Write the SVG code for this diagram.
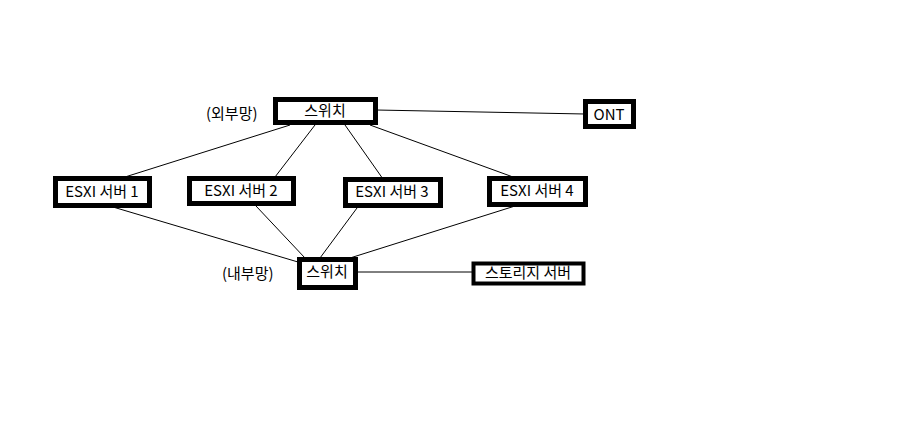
<svg xmlns="http://www.w3.org/2000/svg" width="909" height="445" viewBox="0 0 909 445">
<style>
.b{fill:#fff;stroke:#000;stroke-width:5}
.t{font-family:"Malgun Gothic","Noto Sans CJK KR",sans-serif;font-size:15px;fill:#000}
.c line{stroke:#000;stroke-width:1}
</style>
<rect width="909" height="445" fill="#fff"/>
<g class="c">
<line x1="376" y1="110" x2="585" y2="114"/>
<line x1="290" y1="125" x2="125" y2="177"/>
<line x1="315" y1="125" x2="275" y2="177"/>
<line x1="345" y1="125" x2="383" y2="179"/>
<line x1="370" y1="125" x2="513" y2="177"/>
<line x1="113" y1="207" x2="298" y2="262"/>
<line x1="256" y1="206" x2="305" y2="258"/>
<line x1="357" y1="208" x2="320" y2="258"/>
<line x1="515" y1="206" x2="350" y2="258"/>
<line x1="357" y1="272" x2="474" y2="272"/>
</g>
<g id="sw1"><rect class="b" x="275.5" y="99.5" width="100" height="23"/><text class="t" x="325" y="116" text-anchor="middle">스위치</text></g>
<text class="t" x="206" y="119">(외부망)</text>
<g id="ont"><rect class="b" x="585.5" y="101.5" width="48" height="25"/><text class="t" x="609" y="120" text-anchor="middle">ONT</text></g>
<g id="e1"><rect class="b" x="55.5" y="178.5" width="94" height="27"/><text class="t" x="102" y="197" text-anchor="middle">ESXI 서버 1</text></g>
<g id="e2"><rect class="b" x="189.5" y="178.5" width="104" height="25"/><text class="t" x="241" y="196" text-anchor="middle">ESXI 서버 2</text></g>
<g id="e3"><rect class="b" x="345.5" y="179.5" width="95" height="26"/><text class="t" x="392" y="197" text-anchor="middle">ESXI 서버 3</text></g>
<g id="e4"><rect class="b" x="489.5" y="178.5" width="96" height="26"/><text class="t" x="537" y="196" text-anchor="middle">ESXI 서버 4</text></g>
<g id="sw2"><rect class="b" x="299.5" y="259.5" width="56" height="28"/><text class="t" x="327" y="277" text-anchor="middle">스위치</text></g>
<text class="t" x="222" y="279">(내부망)</text>
<g id="st"><rect class="b" x="473.5" y="263.5" width="110" height="20" style="stroke-width:4"/><text class="t" x="528" y="278" text-anchor="middle">스토리지 서버</text></g>
</svg>
